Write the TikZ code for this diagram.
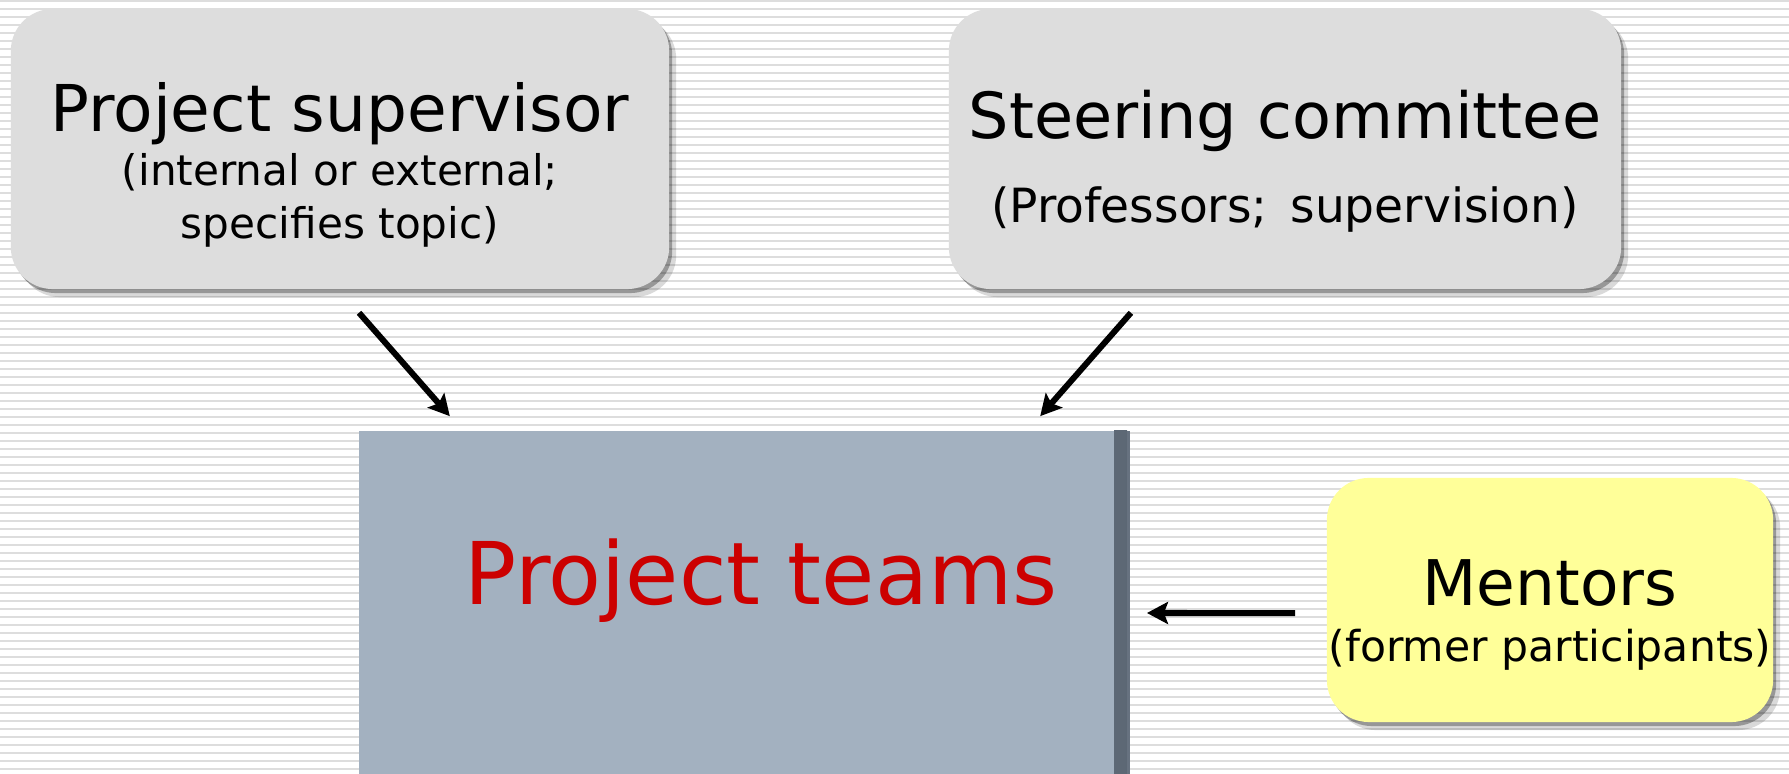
\documentclass[tikz,border=0pt]{standalone}
\usepackage{fontspec}
\setmainfont{DejaVu Sans}
\usetikzlibrary{arrows.meta,shadows}
\definecolor{linegrey}{HTML}{DDDDDD}
\definecolor{boxgrey}{HTML}{DDDDDD}
\definecolor{teamblue}{HTML}{A3B1C0}
\definecolor{teamdark}{HTML}{5C6774}
\definecolor{mentoryellow}{HTML}{FFFF99}
\definecolor{teamred}{HTML}{CC0000}

\begin{document}
\begin{tikzpicture}[
        x=0.01cm, y=-0.01cm,
        bgline/.style={draw=linegrey, line width=0.02cm},
        greybox/.style={rectangle, rounded corners=0.42cm, fill=boxgrey,
          inner sep=0pt, align=center,
          drop shadow={shadow xshift=0.07cm, shadow yshift=-0.08cm, fill=black, opacity=0.15},
          drop shadow={shadow xshift=0.03cm, shadow yshift=-0.04cm, fill=black, opacity=0.3}},
        yellowbox/.style={greybox, fill=mentoryellow},
        teambox/.style={rectangle, fill=teamblue, inner sep=0pt,
          path picture={\shade[left color=teamblue, right color=teamdark]
            ([xshift=-0.16cm]path picture bounding box.north east)
            rectangle ([xshift=-0.03cm]path picture bounding box.south east);
            \fill[teamdark!85!teamblue] ([xshift=-0.03cm]path picture bounding box.north east)
            rectangle (path picture bounding box.south east);}},
        arr/.style={line width=0.06cm, -{Stealth[length=2.1mm, width=2.2mm, inset=0.4mm]}}
      ]
        % 初始化
        \useasboundingbox (0,0) rectangle (1789,774);
        \fill[white] (0,0) rectangle (1789,774);
        % 背景横线
        \foreach \k in {0,...,96}
          \draw[bgline] (0,8*\k+1) -- (1789,8*\k+1);
        % 定义方框
        \node[greybox, minimum width=6.58cm, minimum height=2.80cm,
          text height=1.82cm, text depth=0.04cm, font=\fontsize{12}{14.8}\selectfont]
          (sup) at (340,149)
          {{\fontsize{18.35}{18.35}\selectfont Project supervisor}\\[0.8pt]
           (internal or external;\\ specifies topic)};
        \node[greybox, minimum width=6.72cm, minimum height=2.80cm,
          text height=1.56cm, text depth=0.10cm, font=\fontsize{13.4}{13.4}\selectfont]
          (steer) at (1285,149)
          {{\fontsize{18.1}{18.1}\selectfont Steering committee}\\[8.8pt]
           (Professors;\ \,supervision)};
        \node[teambox, minimum width=7.71cm, minimum height=3.43cm,
          text height=0.65cm, text depth=0.60cm, text=teamred, font=\fontsize{24.6}{24.6}\selectfont]
          (teams) at (744.5,602.5) {\hspace*{0.33cm}Project teams};
        \node[yellowbox, minimum width=4.46cm, minimum height=2.44cm,
          text height=1.34cm, text depth=0.12cm, font=\fontsize{12.1}{12.1}\selectfont]
          (mentor) at (1550,600)
          {{\fontsize{17.9}{17.9}\selectfont Mentors}\\[3.6pt]
           (former participants)};
        % 绘制箭头
        \draw[arr] ([xshift=0.19cm, yshift=-0.23cm]sup.south) -- ([xshift=-2.945cm, yshift=0.14cm]teams.north);
        \draw[arr] ([xshift=-1.54cm, yshift=-0.23cm]steer.south) -- ([xshift=2.955cm, yshift=0.14cm]teams.north);
        \draw[arr] ([xshift=-0.31cm, yshift=-0.13cm]mentor.west) -- ([xshift=0.16cm, yshift=-0.105cm]teams.east);
      \end{tikzpicture}
\end{document}
